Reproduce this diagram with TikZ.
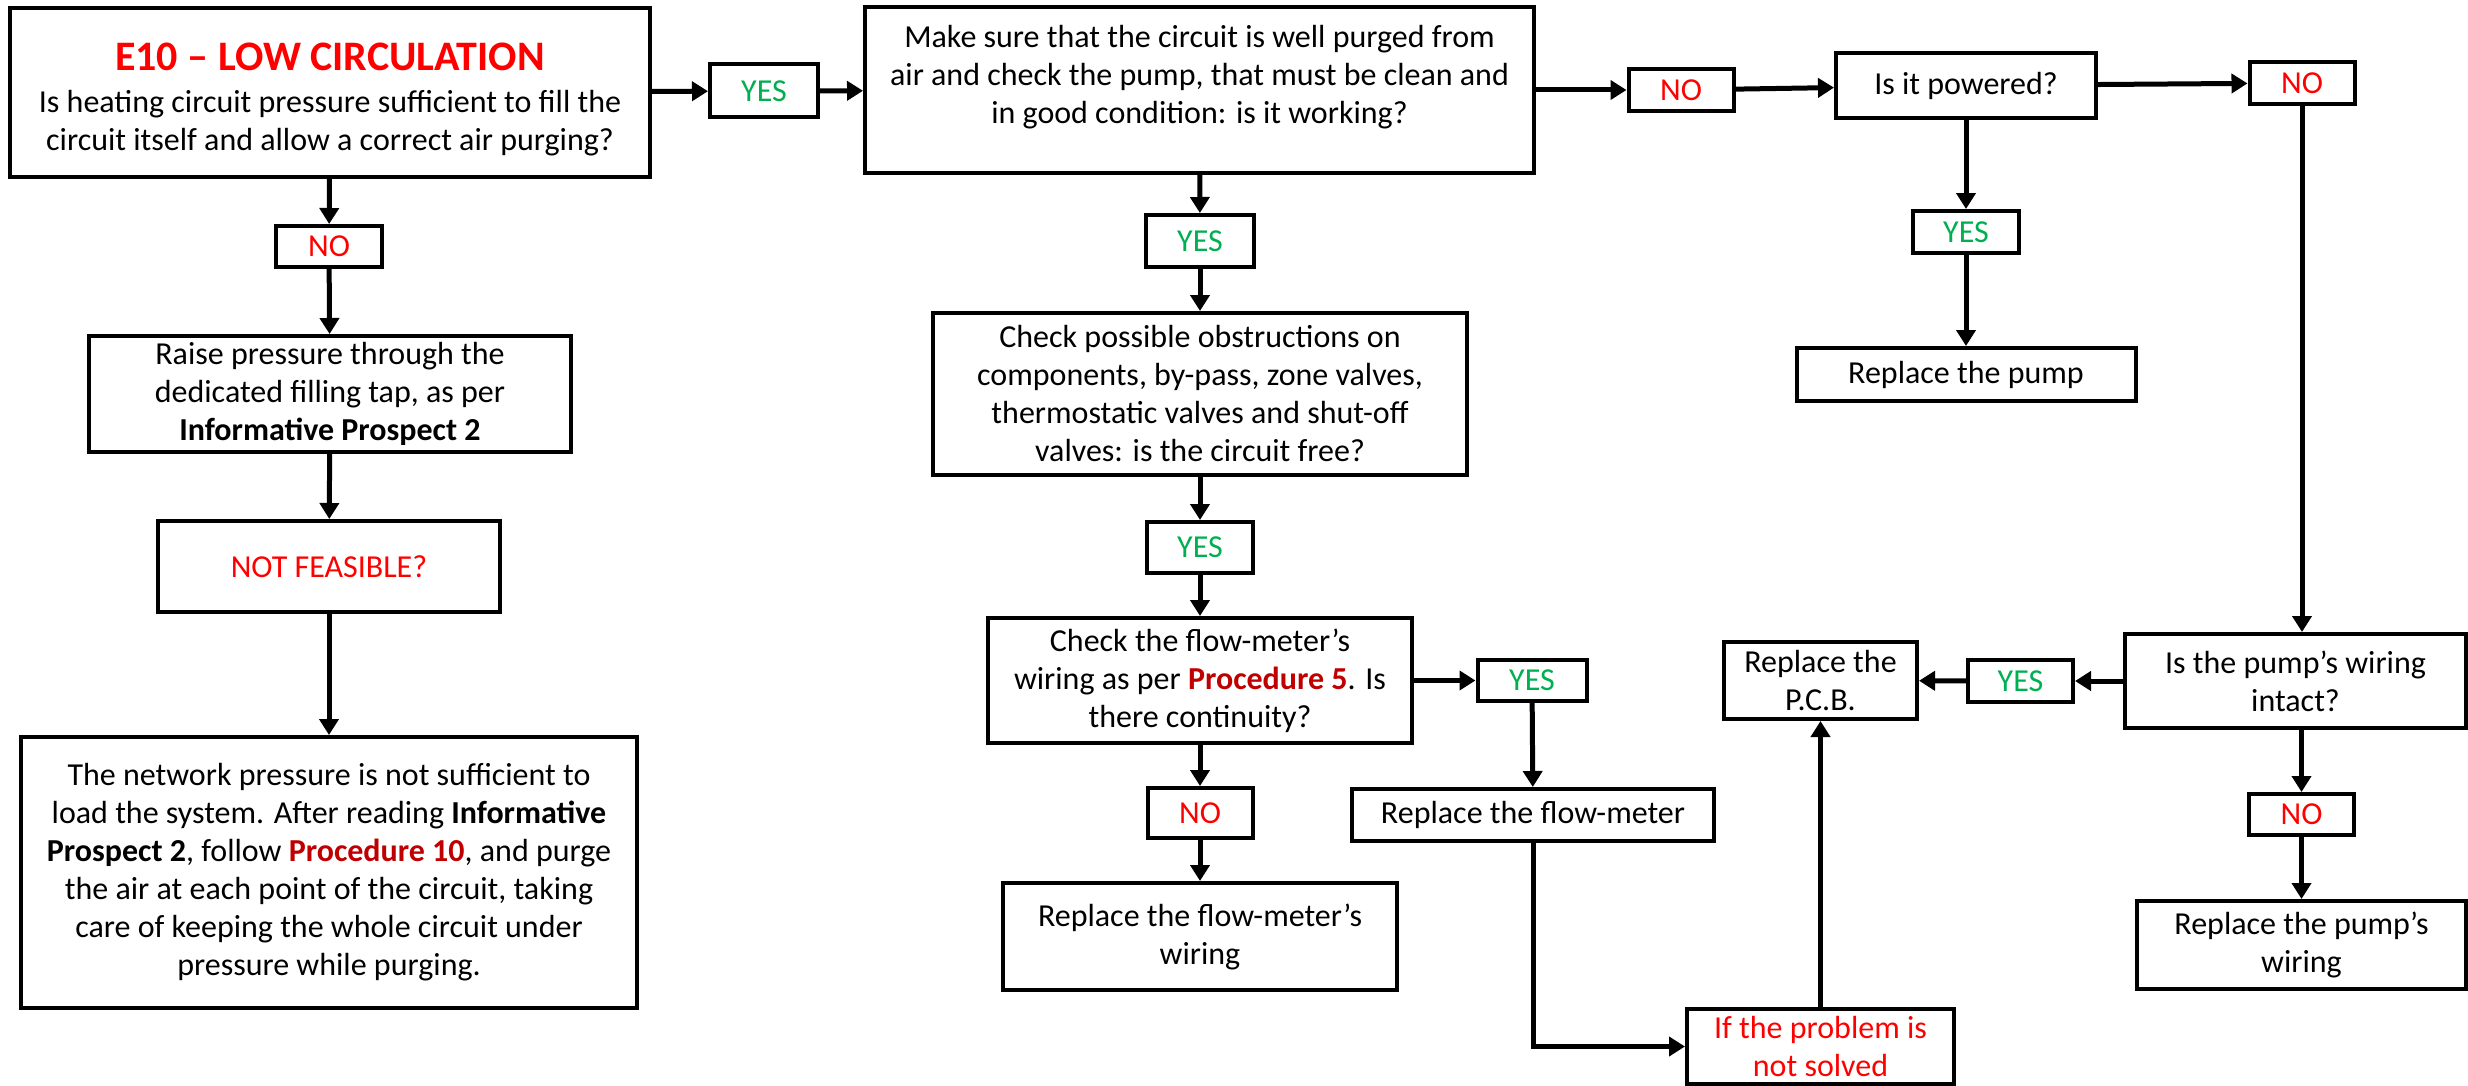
\documentclass[tikz,border=0pt]{standalone}
\usepackage{fontspec}
\setmainfont{Carlito}
\usepackage{tikz}
\usetikzlibrary{arrows.meta}

\definecolor{nored}{RGB}{255,0,0}
\definecolor{yesgreen}{RGB}{0,176,80}
\definecolor{procred}{RGB}{192,0,0}
\newcommand{\proc}[1]{\textcolor{procred}{\textbf{#1}}}

\begin{document}
\begin{tikzpicture}[x=0.5pt, y=-0.5pt]
  \tikzstyle{box} = [rectangle, draw=black, line width=2pt, align=center, inner sep=0pt, font=\fontsize{16pt}{19pt}\selectfont]
  \tikzstyle{yes} = [box, text=yesgreen]
  \tikzstyle{no} = [box, text=nored]
  \tikzstyle{line} = [draw, line width=2.5pt]
  \tikzstyle{arrow} = [line, -{Triangle[length=8pt, width=9.5pt]}]

  \useasboundingbox (0,0) rectangle (2468,1086);

  % top row
  \node (start) [box, minimum width=320pt, minimum height=84.5pt] at (330,92.5) {\rule{0pt}{20.5pt}{\fontsize{21pt}{24pt}\selectfont\bfseries\textcolor{nored}{E10 – LOW CIRCULATION}}\\[2pt]Is heating circuit pressure sufficient to fill the\\circuit itself and allow a correct air purging?};
  \node (yes1) [yes, minimum width=54pt, minimum height=26.5pt] at (764,91) {YES};
  \node (purge) [box, minimum width=334.5pt, minimum height=83pt] at (1199.5,90) {Make sure that the circuit is well purged from\\air and check the pump, that must be clean and\\in good condition: is it working?\\[-3pt]\mbox{}};
  \node (no2) [no, minimum width=52.5pt, minimum height=21pt] at (1681,90) {NO};
  \node (powered) [box, minimum width=130pt, minimum height=32.5pt] at (1966,85.5) {Is it powered?};
  \node (no3) [no, minimum width=52.5pt, minimum height=21pt] at (2302,83) {NO};
  \node (powyes) [yes, minimum width=53pt, minimum height=21pt] at (1966,232) {YES};
  \node (pump) [box, minimum width=169.5pt, minimum height=26.5pt] at (1966,374.5) {Replace the pump};

  % left column
  \node (no1) [no, minimum width=53pt, minimum height=20.5pt] at (329,246.5) {NO};
  \node (raise) [box, minimum width=241pt, minimum height=58pt] at (330,394) {Raise pressure through the\\dedicated filling tap, as per\\\textbf{Informative Prospect 2}};
  \node (notfeas) [no, minimum width=171pt, minimum height=45.5pt] at (329,566.5) {NOT FEASIBLE?};
  \node (network) [box, minimum width=308pt, minimum height=135.5pt] at (329,872.5) {The network pressure is not sufficient to\\load the system. After reading \textbf{Informative}\\\textbf{Prospect 2}, follow \proc{Procedure 10}, and purge\\the air at each point of the circuit, taking\\care of keeping the whole circuit under\\pressure while purging.};

  % middle column
  \node (yes2) [yes, minimum width=54pt, minimum height=26pt] at (1200,241) {YES};
  \node (obstr) [box, minimum width=267pt, minimum height=81pt] at (1200,394) {Check possible obstructions on\\components, by-pass, zone valves,\\thermostatic valves and shut-off\\valves: is the circuit free?};
  \node (yes3) [yes, minimum width=53pt, minimum height=25.5pt] at (1200,547.5) {YES};
  \node (flowchk) [box, minimum width=212pt, minimum height=62.5pt] at (1200,680.5) {Check the flow-meter’s\\wiring as per \proc{Procedure 5}. Is\\there continuity?};
  \node (no4) [no, minimum width=52.5pt, minimum height=25pt] at (1200,813) {NO};
  \node (fmwiring) [box, minimum width=197pt, minimum height=53.5pt] at (1200,936.5) {Replace the flow-meter’s\\wiring};
  \node (yes4) [yes, minimum width=54.5pt, minimum height=20.5pt] at (1532,680.5) {YES};
  \node (fmrepl) [box, minimum width=181pt, minimum height=26pt] at (1533,815) {Replace the flow-meter};
  \node (ifnot) [no, minimum width=133.5pt, minimum height=37.5pt] at (1820.5,1046.5) {If the problem is\\not solved};

  % right column
  \node (pcb) [box, minimum width=96.5pt, minimum height=38.5pt] at (1820.5,680.5) {Replace the\\P.C.B.};
  \node (yes5) [yes, minimum width=52.5pt, minimum height=21pt] at (2020.5,681) {YES};
  \node (pumpwire) [box, minimum width=170.5pt, minimum height=47pt] at (2295.5,681) {Is the pump’s wiring\\intact?};
  \node (no5) [no, minimum width=52.5pt, minimum height=20.5pt] at (2301.5,814.5) {NO};
  \node (pumprepl) [box, minimum width=164.5pt, minimum height=44pt] at (2301.5,945) {Replace the pump’s\\wiring};

  \draw [arrow] (start) -- (yes1);
  \draw [arrow] (yes1) -- (purge);
  \draw [arrow] (purge) -- (no2);
  \draw [arrow] (no2) -- (powered);
  \draw [arrow] (powered) -- (no3);
  \draw [arrow] (no3) -- (no3 |- pumpwire.north);
  \draw [arrow] (powered) -- (powyes);
  \draw [arrow] (powyes) -- (pump);

  \draw [arrow] (start) -- (no1);
  \draw [arrow] (no1) -- (raise);
  \draw [arrow] (raise) -- (notfeas);
  \draw [arrow] (notfeas) -- (network);

  \draw [arrow] (purge) -- (yes2);
  \draw [arrow] (yes2) -- (obstr);
  \draw [arrow] (obstr) -- (yes3);
  \draw [arrow] (yes3) -- (flowchk);
  \draw [arrow] (flowchk) -- (yes4);
  \draw [arrow] (yes4) -- (fmrepl);
  \draw [arrow] (flowchk) -- (no4);
  \draw [arrow] (no4) -- (fmwiring);
  \draw [arrow] (fmrepl) |- (ifnot);
  \draw [arrow] (ifnot) -- (pcb);

  \draw [arrow] (pumpwire) -- (yes5);
  \draw [arrow] (yes5) -- (pcb);
  \draw [arrow] (pumpwire.south -| no5) -- (no5);
  \draw [arrow] (no5) -- (pumprepl);

\end{tikzpicture}
\end{document}
